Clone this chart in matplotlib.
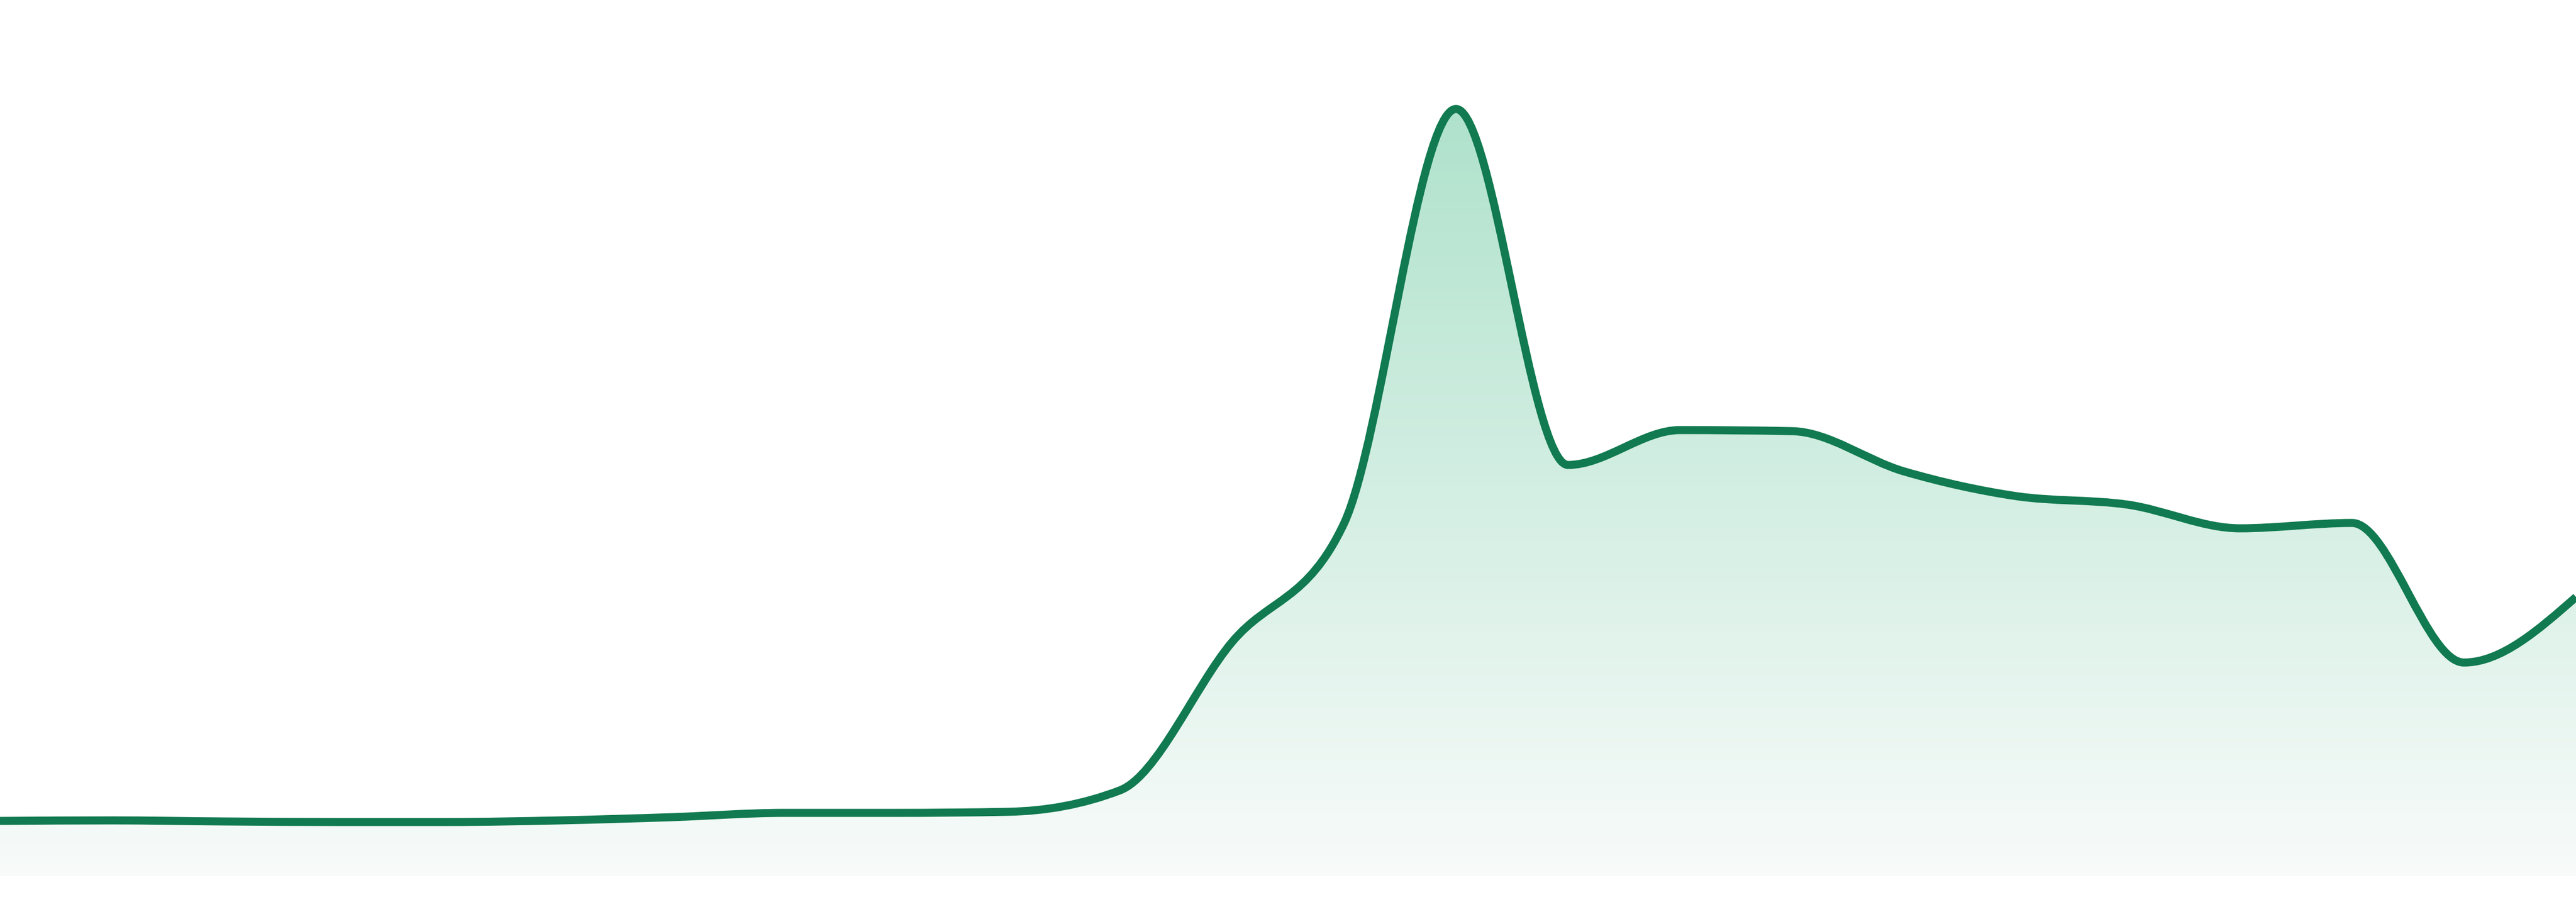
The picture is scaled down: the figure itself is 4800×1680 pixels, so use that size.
import numpy as np
import matplotlib
matplotlib.use("Agg")
import matplotlib.pyplot as plt
from matplotlib.path import Path
from matplotlib.patches import PathPatch
from matplotlib.colors import LinearSegmentedColormap

# values, one per equally spaced point
points = list(range(24))
values = [10.3, 10.4, 10.2, 10.1, 10.1, 10.4, 11.0, 11.8, 11.8, 12.0,
          16.0, 43.6, 65.7, 142.9, 76.6, 83.1, 82.9, 75.4, 70.8, 69.2,
          64.8, 65.8, 39.8, 52.0]

line_color = "#117a50"
fill_top = "#afe2cc"
fill_bottom = "#f8fbfa"


def monotone_path(xs, ys):
    # monotone-x cubic, written as bezier segments
    xs = np.asarray(xs, float)
    ys = np.asarray(ys, float)
    n = len(xs)
    h = np.diff(xs)
    s = np.diff(ys) / h
    t = np.zeros(n)
    for i in range(1, n - 1):
        p = (s[i - 1] * h[i] + s[i] * h[i - 1]) / (h[i - 1] + h[i])
        t[i] = (np.sign(s[i - 1]) + np.sign(s[i])) * min(abs(s[i - 1]), abs(s[i]), 0.5 * abs(p))
    t[0] = (3 * s[0] - t[1]) / 2
    t[-1] = (3 * s[-1] - t[-2]) / 2
    verts = [(xs[0], ys[0])]
    codes = [Path.MOVETO]
    for i in range(n - 1):
        dx = h[i] / 3
        verts += [(xs[i] + dx, ys[i] + dx * t[i]),
                  (xs[i + 1] - dx, ys[i + 1] - dx * t[i + 1]),
                  (xs[i + 1], ys[i + 1])]
        codes += [Path.CURVE4] * 3
    return verts, codes


fig = plt.figure(figsize=(16, 5.6), dpi=300)
ax = fig.add_axes([0, 0, 1, 1])
ax.set_xlim(points[0], points[-1])
ax.set_ylim(-4.8, 163.2)
ax.axis("off")

verts, codes = monotone_path(points, values)

# area under the curve, filled with a vertical gradient
area_verts = verts + [(points[-1], 0), (points[0], 0), verts[0]]
area_codes = codes + [Path.LINETO, Path.LINETO, Path.CLOSEPOLY]
area = PathPatch(Path(area_verts, area_codes), facecolor="none", edgecolor="none")
ax.add_patch(area)

cmap = LinearSegmentedColormap.from_list("fade", [fill_bottom, fill_top])
grad = np.linspace(0, 1, 256).reshape(-1, 1)
img = ax.imshow(grad, cmap=cmap, origin="lower", aspect="auto",
                extent=[points[0], points[-1], 0, max(values)], zorder=1)
img.set_clip_path(area)

line = PathPatch(Path(verts, codes), facecolor="none", edgecolor=line_color,
                 linewidth=3.6, capstyle="butt", joinstyle="round", zorder=2)
ax.add_patch(line)

fig.savefig("out.png", dpi=300, facecolor="white")
plt.close(fig)
